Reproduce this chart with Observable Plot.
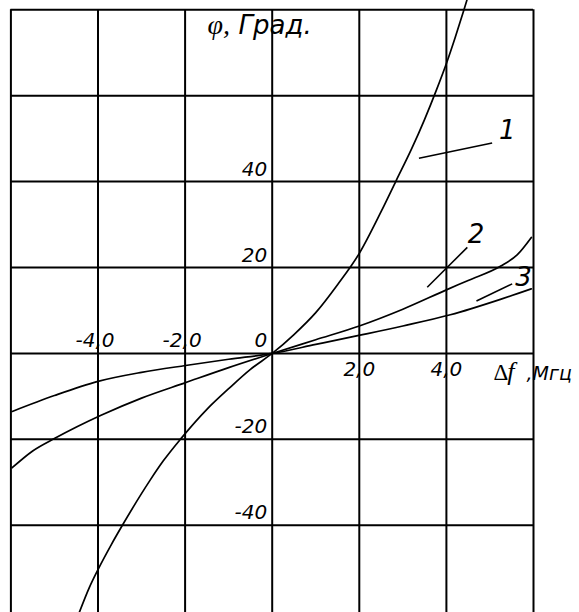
<!DOCTYPE html>
<html><head><meta charset="utf-8">
<script src="https://cdn.jsdelivr.net/npm/d3@7"></script>
<script src="https://cdn.jsdelivr.net/npm/@observablehq/plot@0.6"></script>
<style>
html,body{margin:0;padding:0;background:#fff;}
</style>
</head><body><div id="chart"></div>
<script>
// grid / ticks
const xGrid = [-6, -4, -2, 0, 2, 4, 6];
const yGrid = [80, 60, 40, 20, 0, -20, -40];
const xTickNeg = [-4, -2];
const xTickNegLabels = ["-4,0", "-2,0"];
const xTickPos = [2, 4];
const xTickPosLabels = ["2,0", "4,0"];
const yTickValues = [40, 20, 0, -20, -40];
const yTickLabels = ["40", "20", "0", "-20", "-40"];

// curves (Δf, MHz ; φ, deg)
const curve1X = [-4.43, -4.2, -4.0, -3.7, -3.44, -2.81, -2.5, -2.11, -1.5, -1.0, -0.5, 0, 0.5, 1.0, 1.5, 2.0, 2.5, 2.85, 3.2, 3.5, 3.77, 4.0, 4.2, 4.4, 4.47];
const curve1Y = [-60.3, -54.5, -50.3, -44.6, -40, -29.6, -25.0, -20.0, -13.0, -8.2, -3.7, 0, 4.4, 9.5, 16.0, 23.3, 33.0, 40.3, 47.6, 54.5, 61.3, 67.5, 73.5, 79.9, 82.2];
const curve2X = [-5.97, -5.5, -4.98, -3.93, -3.0, -1.99, -1.0, 0, 1.0, 2.0, 3.0, 4.0, 4.5, 5.24, 5.63, 5.95];
const curve2Y = [-26.6, -22.7, -19.7, -14.4, -10.4, -6.8, -3.3, 0, 3.2, 6.4, 10.3, 14.8, 17.0, 20.3, 23.0, 27.0];
const curve3X = [-5.97, -5.0, -4.0, -3.0, -1.99, -1.0, 0, 1.0, 1.99, 3.0, 4.09, 5.24, 5.95];
const curve3Y = [-13.5, -9.8, -6.5, -4.4, -2.8, -1.35, 0, 2.1, 4.2, 6.4, 9.0, 12.6, 15.05];

// curve labels and leader lines
const curveNames = ["1", "2", "3"];
const labelX = [5.40, 4.68, 5.77];
const labelY = [51.9, 27.7, 17.56];
const leaderX1 = [3.37, 3.56, 4.69];
const leaderY1 = [45.45, 15.4, 12.2];
const leaderX2 = [5.05, 4.48, 5.51];
const leaderY2 = [49.0, 24.7, 16.2];

const lines = [];
[[curve1X, curve1Y], [curve2X, curve2Y], [curve3X, curve3Y]].forEach(([xs, ys], i) => {
  xs.forEach((x, j) => lines.push({curve: curveNames[i], x, y: ys[j]}));
});
const labels = curveNames.map((t, i) => ({t, x: labelX[i], y: labelY[i]}));
const leaders = curveNames.map((t, i) => ({x1: leaderX1[i], y1: leaderY1[i], x2: leaderX2[i], y2: leaderY2[i]}));

const sans = "DejaVu Sans";
const serif = "Liberation Serif";

const chart = Plot.plot({
  width: 579,
  height: 612,
  marginTop: 0, marginBottom: 0, marginLeft: 0, marginRight: 0,
  x: {domain: [-6, 6], range: [10.4, 533], axis: null},
  y: {domain: [-60.3, 82.16], range: [612, 0], axis: null},
  style: {background: "white"},
  marks: [
    Plot.ruleX(xGrid, {x: d => d, y1: 80, y2: -60.3, stroke: "black", strokeWidth: 2, strokeOpacity: 1}),
    Plot.ruleY(yGrid, {y: d => d, x1: -6, x2: 6, stroke: "black", strokeWidth: 2, strokeOpacity: 1}),
    Plot.line(lines, {x: "x", y: "y", z: "curve", curve: "monotone-x", stroke: "black", strokeWidth: 1.7}),
    Plot.link(leaders, {x1: "x1", y1: "y1", x2: "x2", y2: "y2", stroke: "black", strokeWidth: 1.6}),
    Plot.text(labels, {x: "x", y: "y", text: "t", fontFamily: sans, fontStyle: "oblique", fontSize: 26, fill: "black"}),
    // y tick labels
    Plot.text(yTickValues, {x: 0, y: d => d, text: (d, i) => yTickLabels[i], textAnchor: "end", lineAnchor: "bottom", dx: -5, dy: -6, fontFamily: sans, fontStyle: "oblique", fontSize: 20, fill: "black"}),
    // x tick labels
    Plot.text(xTickNeg, {x: d => d, y: 0, text: (d, i) => xTickNegLabels[i], textAnchor: "middle", lineAnchor: "bottom", dx: -3, dy: -6, fontFamily: sans, fontStyle: "oblique", fontSize: 20, fill: "black"}),
    Plot.text(xTickPos, {x: d => d, y: 0, text: (d, i) => xTickPosLabels[i], textAnchor: "middle", lineAnchor: "bottom", dx: 0, dy: 23, fontFamily: sans, fontStyle: "oblique", fontSize: 20, fill: "black"}),
    // y axis title
    Plot.text(["φ,"], {x: -1.486, y: 74.41, text: d => d, textAnchor: "start", lineAnchor: "bottom", fontFamily: serif, fontStyle: "italic", fontSize: 28, fill: "black"}),
    Plot.text(["Град."], {x: -0.774, y: 74.41, text: d => d, textAnchor: "start", lineAnchor: "bottom", fontFamily: sans, fontStyle: "oblique", fontSize: 26, fill: "black"}),
    // x axis title
    Plot.text(["Δ"], {x: 5.082, y: -6.29, text: d => d, textAnchor: "start", lineAnchor: "bottom", fontFamily: serif, fontSize: 23, fill: "black"}),
    Plot.text(["f"], {x: 5.40, y: -6.29, text: d => d, textAnchor: "start", lineAnchor: "bottom", fontFamily: serif, fontStyle: "italic", fontSize: 26, fill: "black"}),
    Plot.text([",Мгц"], {x: 5.84, y: -6.29, text: d => d, textAnchor: "start", lineAnchor: "bottom", fontFamily: sans, fontStyle: "oblique", fontSize: 19, fill: "black"})
  ]
});
document.getElementById("chart").appendChild(chart);
</script>
</body></html>
